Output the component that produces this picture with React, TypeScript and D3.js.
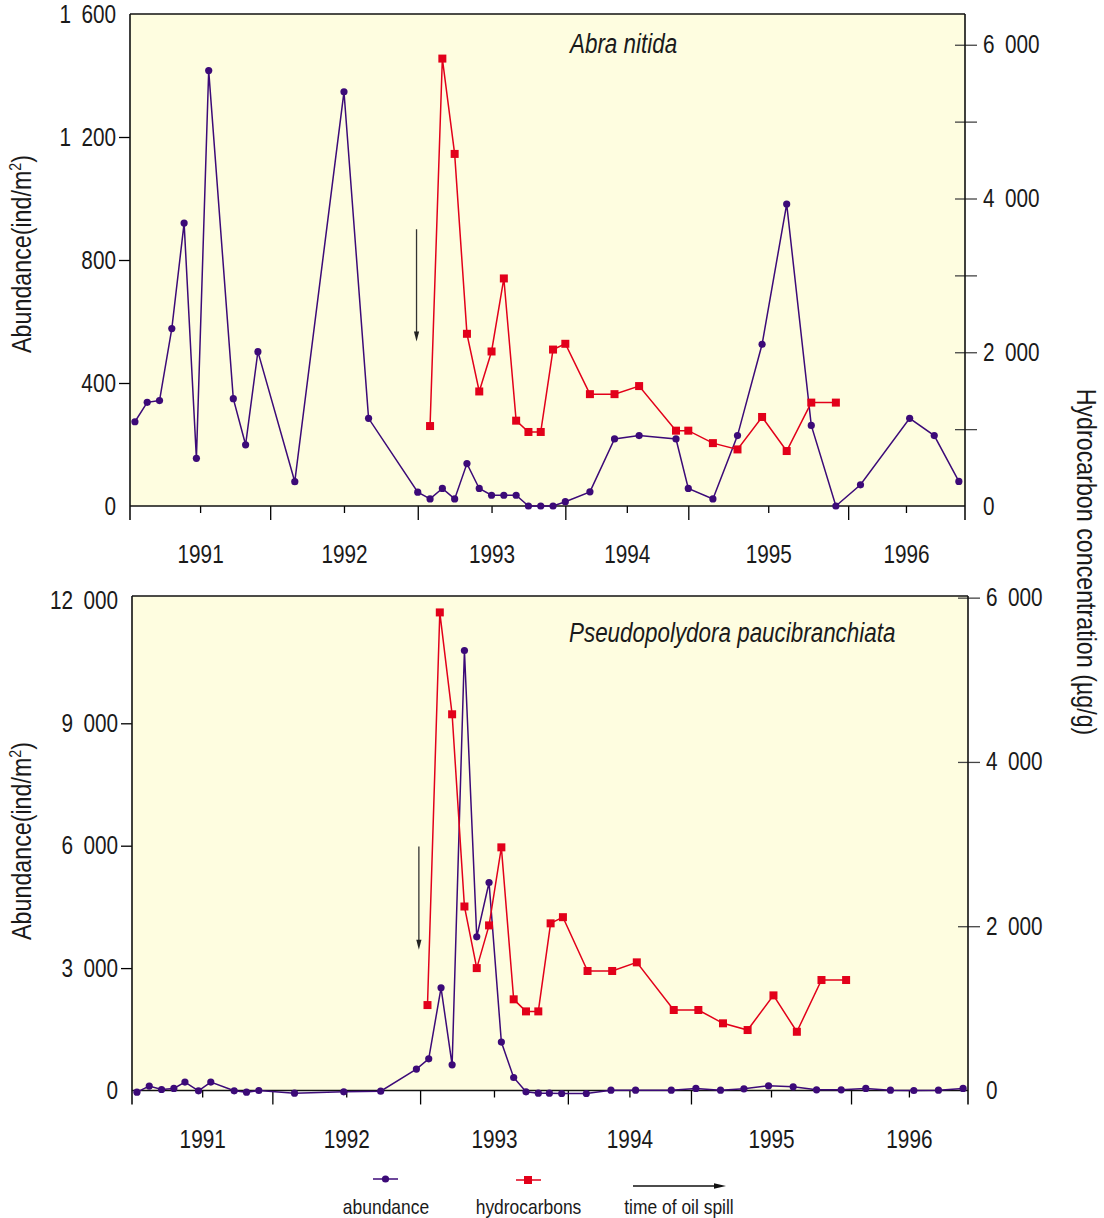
import React, { useEffect, useRef } from "react";
import * as d3 from "d3";

const abraMonths = [0, 1, 2, 3, 4, 5, 6, 8, 9, 10, 13, 17, 19, 23, 24, 25, 26, 27, 28, 29, 30, 31, 32, 33, 34, 35, 37, 39, 41, 44, 45, 47, 49, 51, 53, 55, 57, 59, 63, 65, 67];
const abraAbundance = [274, 337, 343, 577, 920, 155, 1416, 349, 199, 502, 79, 1347, 285, 45, 23, 57, 23, 138, 57, 35, 35, 35, 0, 0, 0, 14, 46, 218, 229, 218, 57, 23, 229, 526, 982, 262, 0, 69, 285, 229, 80];

const pseudoMonths = [0, 1, 2, 3, 3.9, 5, 6, 7.9, 8.9, 9.9, 12.8, 16.8, 19.8, 22.7, 23.7, 24.7, 25.6, 26.6, 27.6, 28.6, 29.6, 30.6, 31.6, 32.6, 33.5, 34.5, 36.5, 38.5, 40.5, 43.4, 45.4, 47.4, 49.3, 51.3, 53.3, 55.2, 57.2, 59.2, 61.2, 63.1, 65.1, 67.1];
const pseudoAbundance = [-40, 108, 25, 50, 206, -7, 206, -7, -40, 0, -65, -32, -16, 524, 777, 2517, 630, 10784, 3767, 5098, 1186, 319, -32, -65, -65, -73, -73, 8, 8, 8, 50, 8, 41, 115, 90, 16, 16, 50, 8, 0, 8, 50];

const hydroMonthsTop = [24, 25, 26, 27, 28, 29, 30, 31, 32, 33, 34, 35, 37, 39, 41, 44, 45, 47, 49, 51, 53, 55, 57];
const hydroMonthsBottom = [23.6, 24.6, 25.6, 26.6, 27.6, 28.6, 29.6, 30.6, 31.6, 32.6, 33.6, 34.6, 36.6, 38.6, 40.6, 43.6, 45.6, 47.6, 49.6, 51.7, 53.6, 55.6, 57.6];
const hydrocarbons = [1040, 5820, 4580, 2240, 1490, 2010, 2960, 1110, 963, 963, 2035, 2110, 1455, 1455, 1560, 980, 980, 818, 736, 1158, 715, 1345, 1345];

const yearTicks = [5.3, 17, 29, 40, 51.5, 62.7];
const yearLabels = ["1991", "1992", "1993", "1994", "1995", "1996"];
const halfYearTicks = [11, 23, 35, 45, 58];
const spillMonth = 22.9;

const abraLeftTicks = [0, 400, 800, 1200, 1600];
const abraRightTicks = [0, 1000, 2000, 3000, 4000, 5000, 6000];
const pseudoLeftTicks = [0, 3000, 6000, 9000, 12000];
const pseudoRightTicks = [0, 2000, 4000, 6000];

const FONT = "'Liberation Sans', Arial, sans-serif";
const SQUEEZE = 0.83; // the original uses a condensed face
const abColor = "#3c0a78";
const hcColor = "#e2001a";
const fillColor = "#fefde0";
const txt = "#1a1a1a";

const fmt = (v: number) => d3.format(",")(v).replace(/,/g, "\u2002");

type Panel = {
  x0: number; x1: number; y0: number; y1: number;
  leftTop: number; rightTop: number;
  leftTicks: number[]; rightTicks: number[];
  abMonths: number[]; abValues: number[]; hcMonths: number[];
  title: string; titleX: number; titleY: number;
  axisTitleY: number;
  arrow: [number, number];
};

const panels: Panel[] = [
  {
    x0: 130, x1: 965, y0: 14, y1: 506, leftTop: 1600, rightTop: 6400,
    leftTicks: abraLeftTicks, rightTicks: abraRightTicks,
    abMonths: abraMonths, abValues: abraAbundance, hcMonths: hydroMonthsTop,
    title: "Abra nitida", titleX: 570, titleY: 53, axisTitleY: 254, arrow: [900, 535],
  },
  {
    x0: 132, x1: 968, y0: 596, y1: 1090.5, leftTop: 12120, rightTop: 6020,
    leftTicks: pseudoLeftTicks, rightTicks: pseudoRightTicks,
    abMonths: pseudoMonths, abValues: pseudoAbundance, hcMonths: hydroMonthsBottom,
    title: "Pseudopolydora paucibranchiata", titleX: 569, titleY: 642, axisTitleY: 841, arrow: [5980, 3450],
  },
];

function drawPanel(svg: d3.Selection<SVGSVGElement, unknown, null, undefined>, p: Panel) {
  const x = d3.scaleLinear().domain([-0.4, 67.5]).range([p.x0, p.x1]);
  const yL = d3.scaleLinear().domain([0, p.leftTop]).range([p.y1, p.y0]);
  const yR = d3.scaleLinear().domain([0, p.rightTop]).range([p.y1, p.y0]);
  const g = svg.append("g");

  g.append("rect").attr("x", p.x0).attr("y", p.y0)
    .attr("width", p.x1 - p.x0).attr("height", p.y1 - p.y0).attr("fill", fillColor);

  // axes
  const left = g.append("g").attr("transform", `translate(${p.x0},0)`)
    .call(d3.axisLeft(yL).tickValues(p.leftTicks).tickSize(11).tickPadding(3).tickFormat(d => fmt(+d)));
  left.select(".domain").remove();
  left.selectAll<SVGLineElement, number>(".tick line").filter(d => d === 0 || d === p.leftTicks[p.leftTicks.length - 1]).remove();

  const right = g.append("g").attr("transform", `translate(${p.x1},0)`)
    .call(d3.axisRight(yR).tickValues(p.rightTicks).tickSize(12).tickPadding(6)
      .tickFormat(d => (+d % 2000 === 0 ? fmt(+d) : "")));
  right.select(".domain").remove();
  right.selectAll(".tick line").attr("x1", -10).attr("stroke", "#444");
  right.selectAll<SVGLineElement, number>(".tick line").filter(d => d === 0).remove();

  const bottom = g.append("g").attr("transform", `translate(0,${p.y1})`)
    .call(d3.axisBottom(x).tickValues(yearTicks).tickSize(7).tickFormat((_, i) => yearLabels[i]));
  bottom.select(".domain").remove();
  bottom.selectAll("text").attr("y", 57).attr("dy", null);

  const half = g.append("g").attr("transform", `translate(0,${p.y1})`)
    .call(d3.axisBottom(x).tickValues(halfYearTicks).tickSize(14).tickFormat(() => ""));
  half.select(".domain").remove();

  [left, right, bottom].forEach(a => a.attr("font-family", FONT).attr("font-size", 25)
    .selectAll("text").attr("fill", txt));
  g.selectAll(".tick line").attr("stroke-width", 1.3);

  const frame = [
    [p.x0, p.y0, p.x1, p.y0],
    [p.x0, p.y1, p.x1, p.y1],
    [p.x0, p.y0, p.x0, p.y1 + 14],
    [p.x1, p.y0, p.x1, p.y1 + 14],
  ];
  g.selectAll("line.frame").data(frame).join("line").attr("class", "frame")
    .attr("x1", d => d[0]).attr("y1", d => d[1]).attr("x2", d => d[2]).attr("y2", d => d[3])
    .attr("stroke", "#111").attr("stroke-width", 1.6);

  // oil spill arrow
  const ax = x(spillMonth);
  const a0 = yL(p.arrow[0]);
  const a1 = yL(p.arrow[1]);
  g.append("line").attr("x1", ax).attr("x2", ax).attr("y1", a0).attr("y2", a1 - 7)
    .attr("stroke", "#333").attr("stroke-width", 1.3);
  g.append("path").attr("d", `M${ax - 2.6},${a1 - 10}L${ax + 2.6},${a1 - 10}L${ax},${a1}Z`).attr("fill", "#222");

  // abundance
  const ab = p.abMonths.map((m, i) => [m, p.abValues[i]] as [number, number]);
  g.append("path").datum(ab)
    .attr("d", d3.line<[number, number]>().x(d => x(d[0])).y(d => yL(d[1])))
    .attr("fill", "none").attr("stroke", abColor).attr("stroke-width", 1.5);

  // hydrocarbons
  const hc = p.hcMonths.map((m, i) => [m, hydrocarbons[i]] as [number, number]);
  g.append("path").datum(hc)
    .attr("d", d3.line<[number, number]>().x(d => x(d[0])).y(d => yR(d[1])))
    .attr("fill", "none").attr("stroke", hcColor).attr("stroke-width", 1.5);

  g.selectAll("circle.ab").data(ab).join("circle").attr("class", "ab")
    .attr("cx", d => x(d[0])).attr("cy", d => yL(d[1])).attr("r", 3.6).attr("fill", abColor);
  g.selectAll("rect.hc").data(hc).join("rect").attr("class", "hc")
    .attr("x", d => x(d[0]) - 4).attr("y", d => yR(d[1]) - 4).attr("width", 8).attr("height", 8)
    .attr("fill", hcColor);

  g.append("text").attr("x", p.titleX).attr("y", p.titleY).attr("font-family", FONT)
    .attr("font-size", 27).attr("font-style", "italic").attr("fill", txt).text(p.title);

  // left axis title
  const lt = g.append("text").attr("transform", `translate(31,${p.axisTitleY}) rotate(-90)`)
    .attr("text-anchor", "middle").attr("font-family", FONT).attr("font-size", 28).attr("fill", txt);
  lt.append("tspan").text("Abundance(ind/m");
  lt.append("tspan").attr("font-size", 17).attr("dy", -10).text("2");
  lt.append("tspan").attr("dy", 10).text(")");
}

export default function App() {
  const ref = useRef<SVGSVGElement>(null);

  useEffect(() => {
    const svg = d3.select(ref.current!);
    svg.selectAll("*").remove();
    panels.forEach(p => drawPanel(svg, p));

    svg.append("text").attr("transform", "translate(1077,562) rotate(90)")
      .attr("text-anchor", "middle").attr("font-family", FONT).attr("font-size", 28)
      .attr("fill", txt).text("Hydrocarbon concentration (\u00b5g/g)");

    // legend
    const lg = svg.append("g").attr("font-family", FONT).attr("font-size", 21).attr("fill", txt);
    lg.append("line").attr("x1", 373).attr("x2", 398).attr("y1", 1179).attr("y2", 1179)
      .attr("stroke", abColor).attr("stroke-width", 1.5);
    lg.append("circle").attr("cx", 385.5).attr("cy", 1179).attr("r", 3.6).attr("fill", abColor);
    lg.append("text").attr("x", 386).attr("y", 1214).attr("text-anchor", "middle").text("abundance");

    lg.append("line").attr("x1", 516).attr("x2", 541).attr("y1", 1180).attr("y2", 1180)
      .attr("stroke", hcColor).attr("stroke-width", 1.5);
    lg.append("rect").attr("x", 524).attr("y", 1176).attr("width", 8).attr("height", 8).attr("fill", hcColor);
    lg.append("text").attr("x", 528.5).attr("y", 1214).attr("text-anchor", "middle").text("hydrocarbons");

    lg.append("line").attr("x1", 633).attr("x2", 716).attr("y1", 1186).attr("y2", 1186)
      .attr("stroke", "#111").attr("stroke-width", 1.3);
    lg.append("path").attr("d", "M714,1183.3L726,1186L714,1188.7Z").attr("fill", "#111");
    lg.append("text").attr("x", 679).attr("y", 1214).attr("text-anchor", "middle").text("time of oil spill");

    // squeeze every label horizontally to mimic the condensed typeface
    svg.selectAll<SVGTextElement, unknown>("text").each(function () {
      const w = this.getComputedTextLength();
      if (w > 0) d3.select(this).attr("textLength", w * SQUEEZE).attr("lengthAdjust", "spacingAndGlyphs");
    });
  }, []);

  return (
    <svg ref={ref} width={1104} height={1218}
      style={{ position: "absolute", left: 0, top: 0, background: "#fff" }} />
  );
}
